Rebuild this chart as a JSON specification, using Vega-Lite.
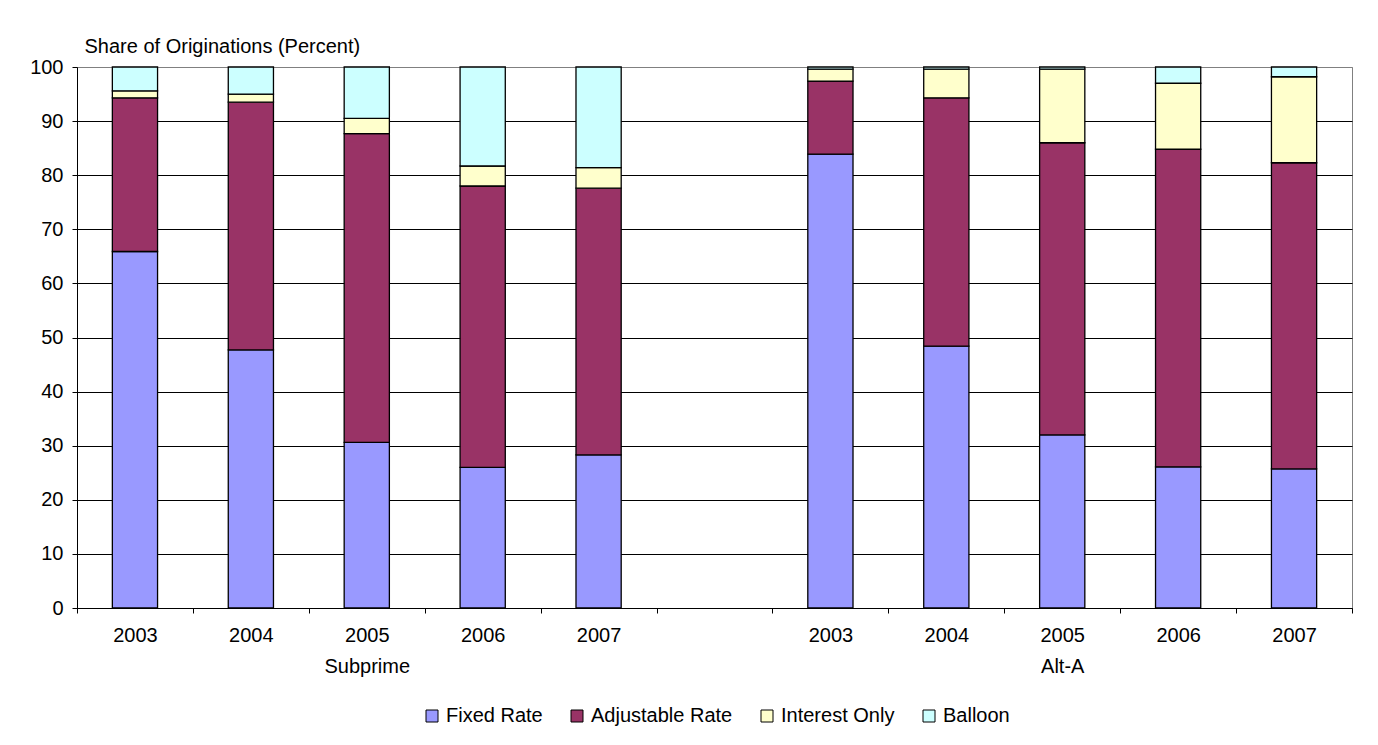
{
  "$schema": "https://vega.github.io/schema/vega-lite/v6.json",
  "autosize": "none",
  "width": 1275,
  "height": 541,
  "padding": {"left": 77, "top": 67, "right": 26, "bottom": 137},
  "background": "#ffffff",
  "config": {
    "font": "Liberation Sans",
    "view": {"stroke": "#808080", "strokeWidth": 1},
    "axis": {
      "labelFont": "Liberation Sans",
      "labelFontSize": 20,
      "labelColor": "#000000",
      "titleFont": "Liberation Sans",
      "titleFontSize": 20,
      "titleFontWeight": "normal",
      "titleColor": "#000000",
      "domainColor": "#000000",
      "tickColor": "#000000",
      "tickSize": 5
    },
    "legend": {
      "labelFont": "Liberation Sans",
      "labelFontSize": 20,
      "labelColor": "#000000"
    }
  },
  "data": {
    "values": [
      {"slot": "Subprime|2003", "type": "Fixed Rate", "k": 1, "share": 65.9},
      {"slot": "Subprime|2003", "type": "Adjustable Rate", "k": 2, "share": 28.4},
      {"slot": "Subprime|2003", "type": "Interest Only", "k": 3, "share": 1.3},
      {"slot": "Subprime|2003", "type": "Balloon", "k": 4, "share": 4.4},
      {"slot": "Subprime|2004", "type": "Fixed Rate", "k": 1, "share": 47.7},
      {"slot": "Subprime|2004", "type": "Adjustable Rate", "k": 2, "share": 45.8},
      {"slot": "Subprime|2004", "type": "Interest Only", "k": 3, "share": 1.5},
      {"slot": "Subprime|2004", "type": "Balloon", "k": 4, "share": 5.0},
      {"slot": "Subprime|2005", "type": "Fixed Rate", "k": 1, "share": 30.6},
      {"slot": "Subprime|2005", "type": "Adjustable Rate", "k": 2, "share": 57.1},
      {"slot": "Subprime|2005", "type": "Interest Only", "k": 3, "share": 2.8},
      {"slot": "Subprime|2005", "type": "Balloon", "k": 4, "share": 9.5},
      {"slot": "Subprime|2006", "type": "Fixed Rate", "k": 1, "share": 26.0},
      {"slot": "Subprime|2006", "type": "Adjustable Rate", "k": 2, "share": 52.0},
      {"slot": "Subprime|2006", "type": "Interest Only", "k": 3, "share": 3.7},
      {"slot": "Subprime|2006", "type": "Balloon", "k": 4, "share": 18.3},
      {"slot": "Subprime|2007", "type": "Fixed Rate", "k": 1, "share": 28.3},
      {"slot": "Subprime|2007", "type": "Adjustable Rate", "k": 2, "share": 49.3},
      {"slot": "Subprime|2007", "type": "Interest Only", "k": 3, "share": 3.8},
      {"slot": "Subprime|2007", "type": "Balloon", "k": 4, "share": 18.6},
      {"slot": "Alt-A|2003", "type": "Fixed Rate", "k": 1, "share": 83.9},
      {"slot": "Alt-A|2003", "type": "Adjustable Rate", "k": 2, "share": 13.5},
      {"slot": "Alt-A|2003", "type": "Interest Only", "k": 3, "share": 2.2},
      {"slot": "Alt-A|2003", "type": "Balloon", "k": 4, "share": 0.4},
      {"slot": "Alt-A|2004", "type": "Fixed Rate", "k": 1, "share": 48.4},
      {"slot": "Alt-A|2004", "type": "Adjustable Rate", "k": 2, "share": 45.9},
      {"slot": "Alt-A|2004", "type": "Interest Only", "k": 3, "share": 5.3},
      {"slot": "Alt-A|2004", "type": "Balloon", "k": 4, "share": 0.4},
      {"slot": "Alt-A|2005", "type": "Fixed Rate", "k": 1, "share": 32.0},
      {"slot": "Alt-A|2005", "type": "Adjustable Rate", "k": 2, "share": 54.0},
      {"slot": "Alt-A|2005", "type": "Interest Only", "k": 3, "share": 13.6},
      {"slot": "Alt-A|2005", "type": "Balloon", "k": 4, "share": 0.4},
      {"slot": "Alt-A|2006", "type": "Fixed Rate", "k": 1, "share": 26.1},
      {"slot": "Alt-A|2006", "type": "Adjustable Rate", "k": 2, "share": 58.7},
      {"slot": "Alt-A|2006", "type": "Interest Only", "k": 3, "share": 12.2},
      {"slot": "Alt-A|2006", "type": "Balloon", "k": 4, "share": 3.0},
      {"slot": "Alt-A|2007", "type": "Fixed Rate", "k": 1, "share": 25.7},
      {"slot": "Alt-A|2007", "type": "Adjustable Rate", "k": 2, "share": 56.6},
      {"slot": "Alt-A|2007", "type": "Interest Only", "k": 3, "share": 15.9},
      {"slot": "Alt-A|2007", "type": "Balloon", "k": 4, "share": 1.8}
    ]
  },
  "mark": {"type": "bar", "width": {"band": 0.39}, "stroke": "#000000", "strokeWidth": 1.3},
  "encoding": {
    "x": {
      "field": "slot",
      "type": "nominal",
      "scale": {
        "domain": ["Subprime|2003", "Subprime|2004", "Subprime|2005", "Subprime|2006", "Subprime|2007", "gap",
                   "Alt-A|2003", "Alt-A|2004", "Alt-A|2005", "Alt-A|2006", "Alt-A|2007"],
        "paddingInner": 0,
        "paddingOuter": 0
      },
      "axis": {
        "title": null,
        "labelAngle": 0,
        "labelOverlap": false,
        "labelPadding": 12,
        "labelLineHeight": 31,
        "tickBand": "extent",
        "labelExpr": "datum.value == 'gap' ? '' : (split(datum.value, '|')[1] == '2005' ? [split(datum.value, '|')[1], split(datum.value, '|')[0]] : split(datum.value, '|')[1])"
      }
    },
    "y": {
      "field": "share",
      "type": "quantitative",
      "stack": "zero",
      "scale": {"domain": [0, 100], "nice": false},
      "axis": {
        "title": "Share of Originations (Percent)",
        "titleAngle": 0,
        "titleAlign": "left",
        "titleBaseline": "middle",
        "titleX": 7,
        "titleY": -21,
        "values": [0, 10, 20, 30, 40, 50, 60, 70, 80, 90, 100],
        "labelPadding": 9,
        "grid": true,
        "gridColor": {"condition": {"test": "datum.value == 100", "value": "#808080"}, "value": "#000000"},
        "gridWidth": 1
      }
    },
    "color": {
      "field": "type",
      "type": "nominal",
      "scale": {
        "domain": ["Fixed Rate", "Adjustable Rate", "Interest Only", "Balloon"],
        "range": ["#9999FF", "#993366", "#FFFFCC", "#CCFFFF"]
      },
      "legend": {
        "title": null,
        "orient": "none",
        "direction": "horizontal",
        "legendX": 345,
        "legendY": 639,
        "symbolType": "square",
        "symbolSize": 144,
        "symbolStrokeColor": "#000000",
        "symbolStrokeWidth": 1,
        "symbolOpacity": 1,
        "labelOffset": 4,
        "columnPadding": 24
      }
    },
    "order": {"field": "k", "type": "quantitative", "sort": "ascending"}
  }
}
